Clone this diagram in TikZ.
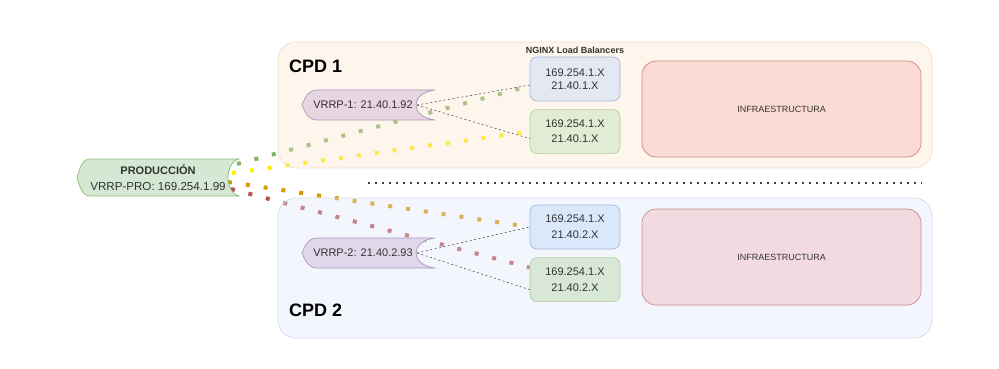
\documentclass[tikz,border=0pt]{standalone}
\usepackage{fontspec}
\setmainfont{Liberation Sans}
\usepackage{tikz}
\usetikzlibrary{positioning, calc, backgrounds}
\definecolor{txtgray}{RGB}{51, 51, 51}
\definecolor{linkgray}{RGB}{85, 85, 85}
\definecolor{cpdOneFill}{RGB}{252, 226, 201}
\definecolor{cpdOneLine}{RGB}{243, 224, 196}
\definecolor{cpdTwoFill}{RGB}{221, 229, 249}
\definecolor{cpdTwoLine}{RGB}{212, 222, 236}
\definecolor{proFill}{RGB}{213, 232, 212}
\definecolor{proLine}{RGB}{140, 185, 115}
\definecolor{vrrpOneFill}{RGB}{231, 214, 224}
\definecolor{vrrpTwoFill}{RGB}{224, 216, 234}
\definecolor{vrrpLine}{RGB}{172, 152, 190}
\definecolor{lbBlueA}{RGB}{228, 232, 242}
\definecolor{lbBlueB}{RGB}{218, 232, 252}
\definecolor{lbBlueLine}{RGB}{160, 182, 215}
\definecolor{lbGreenA}{RGB}{226, 235, 212}
\definecolor{lbGreenB}{RGB}{215, 232, 214}
\definecolor{lbGreenLine}{RGB}{178, 205, 155}
\definecolor{infraOneFill}{RGB}{250, 219, 211}
\definecolor{infraOneLine}{RGB}{206, 134, 122}
\definecolor{infraTwoFill}{RGB}{241, 219, 225}
\definecolor{infraTwoLine}{RGB}{200, 140, 142}
\definecolor{wireGreen}{RGB}{130, 179, 102}
\definecolor{wireYellow}{RGB}{255, 238, 0}
\definecolor{wireAmber}{RGB}{215, 155, 0}
\definecolor{wireRed}{RGB}{184, 84, 80}
\definecolor{divgray}{RGB}{60, 60, 60}

\pgfdeclarelayer{wires}
\pgfsetlayers{wires,background,main}

% outline of a VRRP tag: style, node, left, right, half height, notch, bulge
\newcommand{\tagpath}[7]{%
  \path[#1] ($(#2)+(#4,-#5)$)
    .. controls +(-1.333*#6,0.2*#5) and +(-1.333*#6,-0.2*#5) .. ($(#2)+(#4,#5)$)
    -- ($(#2)+(#3+#7,#5)$)
    .. controls +(-0.55*#7,0) and +(0.25*#7,0.6*#5) .. ($(#2)+(#3,0)$)
    .. controls +(0.25*#7,-0.6*#5) and +(-0.55*#7,0) .. ($(#2)+(#3+#7,-#5)$)
    -- cycle;}

\begin{document}
\begin{tikzpicture}[
        x=1pt, y=-1pt,
        font=\fontsize{11}{13}\selectfont,
        cpd/.style={draw, rounded corners=18pt, line width=0.8pt, fill opacity=0.35, minimum width=654pt, inner sep=0pt},
        title/.style={font=\fontsize{18}{20}\selectfont\bfseries, anchor=west, inner sep=0pt},
        tag/.style={inner sep=0pt, text=txtgray, align=center},
        lb/.style={draw, rounded corners=7pt, line width=0.6pt, minimum width=90pt, minimum height=44pt, inner sep=0pt, align=center, text=txtgray},
        infra/.style={draw, rounded corners=14pt, line width=0.7pt, minimum width=279pt, minimum height=96pt, font=\fontsize{9}{11}\selectfont, text=txtgray},
        wire/.style={line width=4pt, dash pattern=on 4pt off 14pt},
        link/.style={line width=0.6pt, draw=linkgray, dash pattern=on 2pt off 2.5pt},
        divider/.style={line width=1.5pt, draw=divgray, dash pattern=on 1.5pt off 5.5pt},
    ]
        \useasboundingbox (0,0) rectangle (999,369);

        % --- Containers: CPD 1 and CPD 2 ---
        \begin{pgfonlayer}{background}
            \node[cpd, draw=cpdOneLine, fill=cpdOneFill, minimum height=126pt] (cpd1) at (605,105) {};
            \node[cpd, draw=cpdTwoLine, fill=cpdTwoFill, minimum height=140pt] (cpd2) at (605,268) {};
        \end{pgfonlayer}
        \node[title] (cpd1title) at (289,66) {CPD 1};
        \node[title] (cpd2title) at (289,310) {CPD 2};

        % --- VRRP tags ---
        \node[tag, font=\fontsize{11.6}{16}\selectfont] (pro) at (158,177.5) {{\fontsize{11}{16}\selectfont\bfseries PRODUCCIÓN}\\VRRP-PRO: 169.254.1.99};
        \node[tag] (v1) at (363,105) {VRRP-1: 21.40.1.92};
        \node[tag] (v2) at (363,253) {VRRP-2: 21.40.2.93};
        \begin{pgfonlayer}{background}
            \tagpath{draw=proLine, fill=proFill, line width=0.7pt}{pro}{-81}{81}{18.5}{11}{13}
            \tagpath{draw=vrrpLine, fill=vrrpOneFill, line width=0.7pt}{v1}{-61}{72}{15}{19}{15}
            \tagpath{draw=vrrpLine, fill=vrrpTwoFill, line width=0.7pt}{v2}{-61}{72}{15}{19}{15}
        \end{pgfonlayer}

        % --- NGINX load balancers ---
        \node[lb, fill=lbBlueA, draw=lbBlueLine] (lb1a) at (575,79) {169.254.1.X\\21.40.1.X};
        \node[lb, fill=lbGreenA, draw=lbGreenLine, below=8pt of lb1a, font=\fontsize{11}{15}\selectfont] (lb1b) {169.254.1.X\\21.40.1.X};
        \node[font=\fontsize{9}{11}\selectfont\bfseries, text=txtgray, above=0pt of lb1a] (nginx) {NGINX Load Balancers};
        \node[lb, fill=lbBlueB, draw=lbBlueLine, font=\fontsize{11}{16}\selectfont] (lb2a) at (575,227) {169.254.1.X\\21.40.2.X};
        \node[lb, fill=lbGreenB, draw=lbGreenLine, below=8pt of lb2a, font=\fontsize{11}{16}\selectfont] (lb2b) {169.254.1.X\\21.40.2.X};

        % --- Infrastructure ---
        \node[infra, fill=infraOneFill, draw=infraOneLine] (infra1) at (781.5,109) {INFRAESTRUCTURA};
        \node[infra, fill=infraTwoFill, draw=infraTwoLine] (infra2) at (781.5,257) {INFRAESTRUCTURA};

        % --- Separator between the two CPDs ---
        \coordinate (sepL) at (368,183);
        \coordinate (sepR) at (922,183);
        \draw[divider] (sepL) -- (sepR);

        % --- VRRP -> load balancers ---
        \coordinate (v1-n) at ($(v1)+(54,0)$);
        \coordinate (v2-n) at ($(v2)+(54,0)$);
        \draw[link] (v1-n) -- ($(lb1a.west)+(0,6)$);
        \draw[link] (v1-n) -- ($(lb1b.west)+(0,7)$);
        \draw[link] (v2-n) -- (lb2a.west);
        \draw[link] (v2-n) -- ($(lb2b.west)+(0,10)$);

        % --- Production VRRP -> every balancer (under the containers) ---
        \coordinate (pro-g) at ($(pro)+(79,-13.5)$);
        \coordinate (pro-y) at ($(pro)+(74,-4.5)$);
        \coordinate (pro-a) at ($(pro)+(70,4.5)$);
        \coordinate (pro-r) at ($(pro)+(73,11.5)$);
        \begin{pgfonlayer}{wires}
            \draw[wire, draw=wireGreen] (pro-g) -- ($(lb1a.west)+(0,7)$);
            \draw[wire, draw=wireYellow] (pro-y) -- (lb1b.west);
            \draw[wire, draw=wireAmber] (pro-a) -- (lb2a.west);
            \draw[wire, draw=wireRed] (pro-r) -- ($(lb2b.west)+(0,-12)$);
        \end{pgfonlayer}

    \end{tikzpicture}
\end{document}
